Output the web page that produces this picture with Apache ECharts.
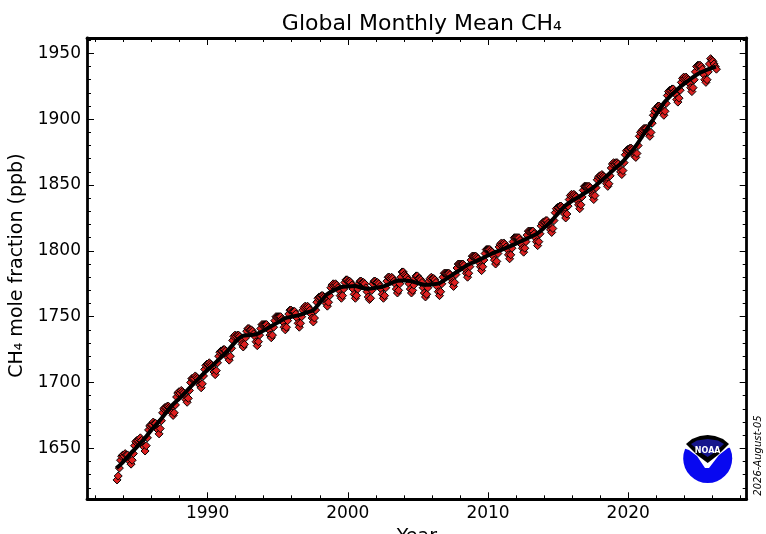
<!DOCTYPE html>
<html><head><meta charset="utf-8">
<script src="https://cdn.jsdelivr.net/npm/echarts@6.0.0/dist/echarts.min.js"></script>
<style>html,body{margin:0;padding:0;background:#fff}#c{width:766px;height:534px}</style>
</head><body><div id="c"></div>
<script>
// ---- data ----
const startYear = 1983, startMonth = 7;   // first monthly value: July 1983
const ch4Monthly = [
  1626,1629,1635,1641,1644,1645,
  1644,1646,1645,1645,1642,1640,1638,1641,1646,1652,1655,1656,
  1656,1657,1658,1656,1653,1651,1648,1652,1658,1664,1667,1668,
  1668,1670,1669,1669,1666,1664,1661,1665,1671,1677,1680,1681,
  1681,1682,1682,1681,1680,1677,1675,1677,1683,1689,1692,1693,
  1692,1694,1693,1692,1690,1687,1685,1688,1694,1700,1703,1703,
  1703,1705,1704,1703,1701,1698,1696,1699,1705,1710,1713,1714,
  1714,1715,1714,1713,1711,1708,1706,1709,1715,1720,1723,1724,
  1724,1725,1725,1724,1721,1719,1717,1720,1726,1732,1735,1736,
  1735,1736,1736,1735,1732,1729,1727,1729,1734,1739,1741,1741,
  1740,1740,1739,1737,1735,1731,1728,1731,1736,1741,1744,1744,
  1744,1744,1744,1742,1740,1736,1734,1736,1742,1747,1750,1750,
  1750,1750,1750,1748,1746,1742,1740,1742,1747,1752,1755,1755,
  1754,1754,1754,1752,1749,1745,1742,1745,1750,1755,1757,1758,
  1757,1758,1757,1755,1752,1749,1746,1749,1755,1761,1764,1765,
  1765,1766,1766,1765,1763,1760,1758,1761,1766,1772,1774,1775,
  1774,1775,1774,1772,1770,1766,1764,1766,1771,1776,1778,1778,
  1777,1777,1776,1774,1771,1767,1764,1766,1771,1775,1777,1777,
  1776,1776,1775,1772,1769,1765,1763,1764,1770,1775,1777,1777,
  1776,1776,1775,1773,1771,1767,1764,1766,1772,1777,1780,1780,
  1779,1780,1779,1777,1775,1771,1768,1770,1775,1780,1784,1784,
  1782,1781,1780,1778,1775,1771,1768,1770,1774,1779,1781,1781,
  1779,1779,1778,1776,1772,1768,1765,1767,1772,1777,1779,1780,
  1779,1779,1778,1776,1773,1769,1766,1769,1775,1780,1783,1783,
  1783,1783,1783,1782,1779,1776,1773,1776,1782,1787,1790,1790,
  1790,1790,1790,1789,1786,1783,1780,1783,1788,1793,1796,1796,
  1796,1796,1795,1794,1791,1788,1785,1788,1793,1798,1801,1801,
  1801,1801,1800,1799,1796,1793,1790,1792,1798,1803,1805,1806,
  1805,1806,1805,1803,1801,1797,1794,1797,1802,1807,1810,1810,
  1810,1810,1810,1808,1805,1802,1799,1802,1807,1812,1815,1815,
  1815,1815,1815,1813,1810,1807,1804,1807,1813,1819,1821,1822,
  1822,1823,1823,1821,1819,1816,1814,1817,1823,1829,1832,1833,
  1833,1834,1834,1833,1831,1828,1825,1828,1834,1839,1842,1843,
  1842,1843,1842,1841,1838,1835,1832,1835,1841,1846,1849,1849,
  1849,1849,1849,1848,1845,1842,1839,1842,1848,1854,1856,1857,
  1857,1858,1857,1856,1854,1851,1849,1851,1857,1863,1866,1867,
  1866,1867,1867,1866,1863,1860,1858,1861,1867,1873,1876,1877,
  1877,1878,1878,1877,1875,1872,1871,1874,1880,1887,1890,1891,
  1892,1893,1893,1893,1891,1889,1887,1890,1897,1903,1906,1908,
  1908,1910,1910,1909,1908,1905,1903,1906,1912,1918,1921,1922,
  1922,1923,1923,1921,1919,1915,1913,1916,1922,1928,1931,1932,
  1931,1932,1931,1930,1927,1924,1921,1924,1930,1936,1940,1941,
  1941,1941,1940,1938,1934,1930,1928,1930,1936,1942,1946,1945,
  1944,1942,1940,1938
];
// de-seasonalised trend, every half year from 1983.5
const trendStart = 1983.5, trendStep = 0.5;
const ch4Trend = [
  1635,
  1640,1646, 1651.5,1657.5, 1664,1670, 1676.5,1683, 1688,1693.5, 1699,1704.5,
  1709.5,1714.5, 1719.5,1725, 1731,1735.5, 1736,1736.8, 1739.5,1742.5, 1745.5,1748.7,
  1750,1751.2, 1753,1754.8, 1760.5,1766.8, 1770,1772.4,
  1773,1773.3, 1772,1771.2, 1772,1772.8, 1775,1777.3, 1777.5,1777, 1775.5,1774.2,
  1774.5,1775.3, 1778.5,1782.2, 1785.5,1789.1, 1791.5,1793.9,
  1796.5,1799, 1801,1803.2, 1805.5,1808.1, 1810.5,1813.1, 1817.5,1822.5, 1828.5,1834.2,
  1838,1841.2, 1844.5,1848.1, 1852.5,1857.2, 1862,1866.6,
  1872.5,1879, 1887,1895.3, 1903.5,1911.8, 1917.5,1922.6, 1927,1931, 1934.5,1937,
  1939
];
const trendLast = [2026.25, 1940];

const xMajorTicks = [1990, 2000, 2010, 2020];
const xMinorTicks = [1982,1984,1986,1988,1992,1994,1996,1998,2002,2004,2006,2008,2012,2014,2016,2018,2022,2024,2026,2028];
const yMajorTicks = [1650, 1700, 1750, 1800, 1850, 1900, 1950];
const yMinorTicks = [1620,1630,1640,1660,1670,1680,1690,1710,1720,1730,1740,1760,1770,1780,1790,1810,1820,1830,1840,1860,1870,1880,1890,1910,1920,1930,1940,1960];
const xRange = [1981.4, 2028.45];
const yRange = [1611.3, 1961.7];

const titleText = 'Global Monthly Mean CH\u2084';
const yName = 'CH\u2084 mole fraction (ppb)';
const xName = 'Year';
const dateStamp = '2026-August-05';

// ---- build ----
const monthlyPts = ch4Monthly.map((v, i) => [startYear + (startMonth - 1 + i + 0.5) / 12, v]);
const trendPts = ch4Trend.map((v, i) => [trendStart + i * trendStep, v]);
trendPts.push(trendLast);

const FONT = 'DejaVu Sans';
const plain = v => String(Math.round(v));
function xAx(pos, ticks, len, main, labels) {
  return {
    type: 'value', position: pos, min: xRange[0], max: xRange[1],
    axisLine: { show: main, onZero: false, lineStyle: { color: '#000', width: 2.8 } },
    axisTick: { show: true, inside: true, length: len, customValues: ticks, lineStyle: { color: '#000', width: 1 } },
    axisLabel: { show: labels, customValues: ticks, formatter: plain, color: '#000', fontSize: 17, fontFamily: FONT, margin: 6 },
    splitLine: { show: false }, minorTick: { show: false },
    name: labels ? xName : '', nameLocation: 'middle', nameGap: 19,
    nameTextStyle: { color: '#000', fontSize: 19, fontFamily: FONT }
  };
}
function yAx(pos, ticks, len, main, labels) {
  return {
    type: 'value', position: pos, min: yRange[0], max: yRange[1],
    axisLine: { show: main, onZero: false, lineStyle: { color: '#000', width: 2.8 } },
    axisTick: { show: true, inside: true, length: len, customValues: ticks, lineStyle: { color: '#000', width: 1 } },
    axisLabel: { show: labels, customValues: ticks, formatter: plain, color: '#000', fontSize: 17, fontFamily: FONT, margin: 6 },
    splitLine: { show: false }, minorTick: { show: false },
    name: labels ? yName : '', nameLocation: 'middle', nameGap: 55, nameRotate: 90,
    nameTextStyle: { color: '#000', fontSize: 19, fontFamily: FONT, padding: [0, 0, 0, 6] }
  };
}

const chart = echarts.init(document.getElementById('c'), null, { renderer: 'canvas' });
chart.setOption({
  backgroundColor: '#fff',
  animation: false,
  textStyle: { fontFamily: FONT },
  title: {
    text: titleText, left: 416.8, top: 8, textAlign: 'center',
    textStyle: { color: '#000', fontSize: 22, fontWeight: 'normal', fontFamily: FONT }
  },
  grid: { left: 87, top: 38, width: 659.7, height: 461.3, outerBoundsMode: 'none', containLabel: false },
  xAxis: [
    xAx('bottom', xMajorTicks, 7, true, true),
    xAx('bottom', xMinorTicks, 4, false, false),
    xAx('top', xMajorTicks, 7, true, false),
    xAx('top', xMinorTicks, 4, false, false)
  ],
  yAxis: [
    yAx('left', yMajorTicks, 7, true, true),
    yAx('left', yMinorTicks, 4, false, false),
    yAx('right', yMajorTicks, 7, true, false),
    yAx('right', yMinorTicks, 4, false, false)
  ],
  series: [
    {
      type: 'line', xAxisIndex: 0, yAxisIndex: 0, data: monthlyPts,
      symbol: 'diamond', symbolSize: 8, showAllSymbol: true,
      itemStyle: { color: '#dd2020', borderColor: '#000', borderWidth: 1 },
      lineStyle: { color: '#00e0e0', width: 1 }, z: 2, silent: true
    },
    {
      type: 'line', xAxisIndex: 0, yAxisIndex: 0, data: trendPts, smooth: 0.3,
      symbol: 'none', lineStyle: { color: '#000', width: 4 }, z: 3, silent: true
    }
  ],
  graphic: [
    { type: 'text', x: 758, y: 455.5, rotation: Math.PI / 2,
      style: { text: dateStamp, fill: '#000', font: 'italic 10px "DejaVu Sans"', textAlign: 'center', textVerticalAlign: 'middle' } },
    { type: 'circle', shape: { cx: 707.7, cy: 458.5, r: 24.5 }, style: { fill: '#0808f0' } },
    { type: 'polygon', shape: { points: [[680,430],[736,430],[736,446],[728,448],[719,455],[709,468],[705,468],[697,456],[689,450],[680,447]] }, style: { fill: '#fff' } },
    { type: 'polygon', shape: { points: [[686,444],[692,439],[700,436],[707.7,435],[715,436],[723,439],[729,444],[718,455],[707.7,463],[697,455]] }, style: { fill: '#000' } },
    { type: 'polygon', shape: { points: [[691,444],[697,440.5],[707.7,439],[718,440.5],[724,444],[715,452],[707.7,457],[700,452]] }, style: { fill: '#16168c' } },
    { type: 'text', x: 707.7, y: 451, style: { text: 'NOAA', fill: '#fff', font: 'bold 8px "DejaVu Sans"', textAlign: 'center', textVerticalAlign: 'middle' } }
  ]
});
</script>
</body></html>
